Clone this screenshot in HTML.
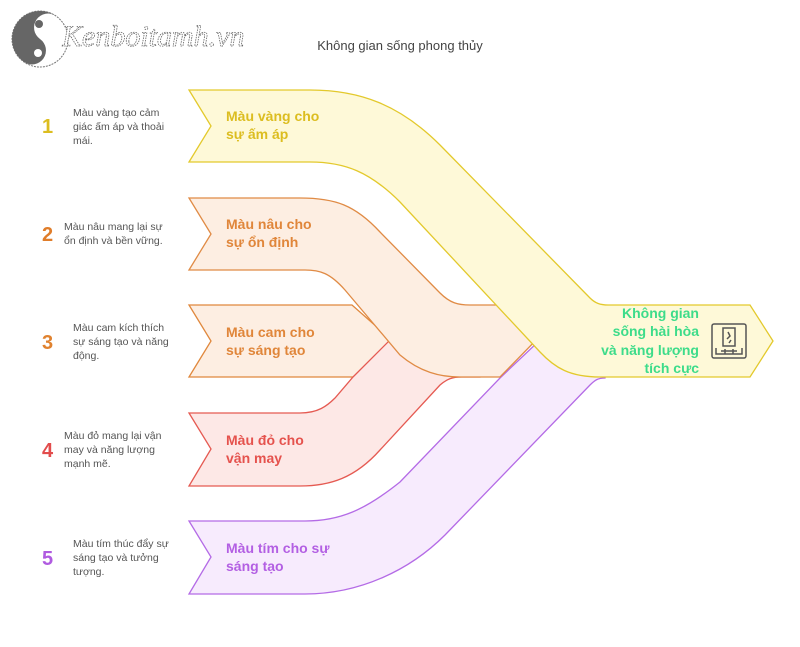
<!DOCTYPE html>
<html><head><meta charset="utf-8"><style>
body{margin:0;width:800px;height:647px;background:#fff;overflow:hidden;font-family:"Liberation Sans","DejaVu Sans",sans-serif}
</style></head><body>
<svg width="800" height="647" viewBox="0 0 800 647" xmlns="http://www.w3.org/2000/svg" style="position:absolute;left:0;top:0">
<!-- logo -->
<circle cx="40" cy="39" r="28" fill="#fff" stroke="#777" stroke-width="1" stroke-dasharray="2,1"/>
<path d="M40,11 A28,28 0 0 0 40,67 A14,14 0 0 0 40,39 A14,14 0 0 1 40,11 Z" fill="#666" transform="rotate(35 40 39)"/>
<circle cx="39" cy="24" r="4" fill="#666"/>
<circle cx="38" cy="53" r="4" fill="#fff"/>
<text x="62" y="46" font-family="Liberation Serif,serif" font-style="italic" font-size="30" fill="#fff" stroke="#666" stroke-width="0.8" stroke-dasharray="1.5,1">Kenboitamh.vn</text>
<text x="400" y="50" text-anchor="middle" font-size="13" fill="#444">Không gian sống phong thủy</text>

<!-- purple -->
<path d="M189,521 L305,521 C340,521 365,510 400,482 L500,378 L540,340 L610,340 L605,378 C598,378 595,380 590,385 L445,535 C410,570 360,594 305,594 L189,594 L211,557 Z" fill="#f7ebfd" stroke="#b46be6" stroke-width="1.3"/>
<!-- cam -->
<path d="M189,305 L352,305 L395,343 L353,377 L189,377 L211,341 Z" fill="#fdeee2" stroke="#e0883d" stroke-width="1.3"/>
<!-- red -->
<path d="M189,413 L300,413 C318,413 327,406 335,398 L353,377 L420,310 L480,310 L480,377 L462,377 C452,377 447,379 440,385 L380,450 C355,478 330,486 300,486 L189,486 L211,449 Z" fill="#fde8e6" stroke="#e55a52" stroke-width="1.3"/>
<!-- nau -->
<path d="M189,198 L300,198 C335,198 355,205 380,232 L440,293 C450,303 458,305 470,305 L590,305 L540,336 L500,377 L460,377 C440,377 420,372 400,355 L345,290 C330,273 320,270 305,270 L189,270 L211,234 Z" fill="#fdeee2" stroke="#e08b45" stroke-width="1.3"/>
<!-- yellow -->
<path d="M189,90 L310,90 C360,90 400,105 440,145 L590,298 C595,303 600,305 608,305 L750,305 L773,341 L750,377 L600,377 C570,377 555,368 540,352 L400,202 C370,172 345,162 310,162 L189,162 L211,126 Z" fill="#fef9d8" stroke="#e3c92c" stroke-width="1.3"/>

<g font-weight="bold" font-size="14">
<text x="226" y="121" fill="#dcbd20">Màu vàng cho</text><text x="226" y="139" fill="#dcbd20">sự ấm áp</text>
<text x="226" y="229" fill="#e0863a">Màu nâu cho</text><text x="226" y="247" fill="#e0863a">sự ổn định</text>
<text x="226" y="337" fill="#e0863a">Màu cam cho</text><text x="226" y="355" fill="#e0863a">sự sáng tạo</text>
<text x="226" y="445" fill="#e5524d">Màu đỏ cho</text><text x="226" y="463" fill="#e5524d">vận may</text>
<text x="226" y="553" fill="#b35fe3">Màu tím cho sự</text><text x="226" y="571" fill="#b35fe3">sáng tạo</text>
<g fill="#3ddc8a" text-anchor="end">
<text x="699" y="318">Không gian</text><text x="699" y="336">sống hài hòa</text><text x="699" y="355">và năng lượng</text><text x="699" y="373">tích cực</text>
</g>
</g>
<!-- icon -->
<g fill="none" stroke="#555" stroke-width="1.5">
<rect x="712" y="324" width="34" height="34" rx="2"/>
<rect x="723" y="328" width="12" height="18"/>
<path d="M716,348 L716,354 L742,354 L742,348 M721,351 L737,351 M725,349 L725,354 M733,349 L733,354"/>
<path d="M728,332 L730,336 L727,339 M731,340 L729,343"/>
</g>

<g font-weight="bold" font-size="20">
<text x="42" y="133" fill="#dcbd20">1</text>
<text x="42" y="241" fill="#e07d2a">2</text>
<text x="42" y="349" fill="#e0822f">3</text>
<text x="42" y="457" fill="#e24c4c">4</text>
<text x="42" y="565" fill="#b05be0">5</text>
</g>
<g font-size="10.5" fill="#555">
<text x="73" y="116">Màu vàng tạo cảm</text><text x="73" y="130">giác ấm áp và thoải</text><text x="73" y="144">mái.</text>
<text x="64" y="230">Màu nâu mang lại sự</text><text x="64" y="244">ổn định và bền vững.</text>
<text x="73" y="331">Màu cam kích thích</text><text x="73" y="345">sự sáng tạo và năng</text><text x="73" y="359">động.</text>
<text x="64" y="439">Màu đỏ mang lại vận</text><text x="64" y="453">may và năng lượng</text><text x="64" y="467">mạnh mẽ.</text>
<text x="73" y="547">Màu tím thúc đẩy sự</text><text x="73" y="561">sáng tạo và tưởng</text><text x="73" y="575">tượng.</text>
</g>
</svg>
</body></html>
